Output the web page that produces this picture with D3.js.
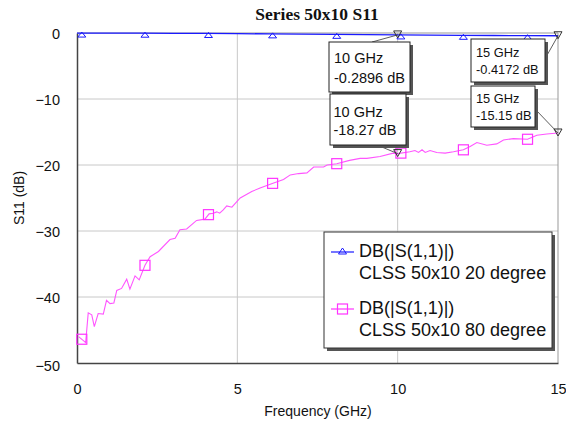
<!DOCTYPE html>
<html>
<head>
<meta charset="utf-8">
<script src="https://cdn.jsdelivr.net/npm/d3@7"></script>
<style>
  html, body { margin: 0; padding: 0; background: #fff; }
  svg { display: block; font-family: "Liberation Sans", Arial, sans-serif; }
  text { fill: #111; }
</style>
</head>
<body>
<svg id="chart" width="566" height="424"></svg>
<script>
// ---------- DATA ----------
const chartTitle = "Series 50x10 S11";
const xTicks = [0, 5, 10, 15];
const yTicks = [0, -10, -20, -30, -40, -50];

const blueFreq = [0, 1, 2, 3, 4, 5, 6, 7, 8, 9, 10, 11, 12, 13, 14, 15];
const blueVals = [-0.01, -0.02, -0.03, -0.05, -0.07, -0.1, -0.13, -0.16, -0.2, -0.24, -0.2896, -0.32, -0.35, -0.38, -0.4, -0.4172];

const pinkFreq = [0.05, 0.2, 0.27, 0.35, 0.46, 0.54, 0.66, 0.82, 0.92, 1.03, 1.15, 1.24, 1.39, 1.55, 1.65, 1.81, 1.94,
  2.12, 2.28, 2.54, 2.9, 3.06, 3.21, 3.42, 3.73, 3.99, 4.12, 4.25, 4.36, 4.45, 4.56, 4.67, 4.83, 5.09, 5.45, 5.71,
  6.09, 6.44, 6.65, 6.91, 7.17, 7.38, 7.69, 7.8, 8.1, 8.5, 8.83, 9.04, 9.45, 9.86, 10.0, 10.38, 10.54, 10.65, 10.76,
  10.86, 11.01, 11.22, 11.48, 11.74, 12.05, 12.26, 12.47, 12.78, 13.09, 13.3, 13.61, 14.05, 14.34, 14.65, 15.0];
const pinkVals = [-46.0, -46.6, -46.9, -42.4, -42.7, -44.5, -42.5, -42.6, -40.5, -41.0, -40.9, -39.0, -38.7, -37.3, -38.8, -36.8, -37.4,
  -35.2, -33.9, -33.1, -31.3, -31.1, -29.8, -29.7, -28.4, -28.2, -27.4, -27.3, -27.1, -27.3, -26.8, -26.2, -26.4, -25.0, -24.0, -23.5,
  -22.8, -22.2, -21.5, -21.3, -21.2, -20.3, -20.3, -20.0, -19.8, -19.3, -19.0, -19.0, -18.7, -18.2, -18.27, -18.0, -17.8, -18.1, -17.7,
  -18.1, -17.8, -18.1, -18.2, -18.0, -17.7, -17.2, -16.6, -17.0, -16.8, -16.2, -16.0, -16.1, -15.5, -15.3, -15.15];

const markerFreq = [0.15, 2.12, 4.1, 6.1, 8.1, 10.1, 12.05, 14.05];

const legendLabels = [["DB(|S(1,1)|)", "CLSS 50x10 20 degree"], ["DB(|S(1,1)|)", "CLSS 50x10 80 degree"]];

const readoutFreq = [10, 15, 10, 15];
const readoutVals = [-0.2896, -0.4172, -18.27, -15.15];
const readoutText = [["10 GHz", "-0.2896 dB"], ["15 GHz", "-0.4172 dB"], ["10 GHz", "-18.27 dB"], ["15 GHz", "-15.15 dB"]];

// ---------- LAYOUT ----------
const svg = d3.select("#chart");
const L = 77, R = 558, T = 33, B = 363;
const x = d3.scaleLinear().domain([0, 15]).range([L, R]);
const y = d3.scaleLinear().domain([0, -50]).range([T, B]);

const blueColor = "#1a1aff", pinkColor = "#ff33ff", pinkLine = "#ff55ff";

// gridlines
svg.append("g").selectAll("line.gx").data(xTicks.filter(d => d > 0 && d < 15)).join("line")
  .attr("x1", d => x(d)).attr("x2", d => x(d)).attr("y1", T).attr("y2", B)
  .attr("stroke", "#c8c8c8").attr("stroke-width", 1);
svg.append("g").selectAll("line.gy").data(yTicks.filter(d => d < 0 && d > -50)).join("line")
  .attr("x1", L).attr("x2", R).attr("y1", d => y(d)).attr("y2", d => y(d))
  .attr("stroke", "#c8c8c8").attr("stroke-width", 1);

// frame
svg.append("line").attr("x1", R).attr("x2", R).attr("y1", T).attr("y2", B).attr("stroke", "#999");
svg.append("line").attr("x1", L).attr("x2", R).attr("y1", T).attr("y2", T).attr("stroke", "#999");

// axes
const xAxis = d3.axisBottom(x).tickValues(xTicks).tickSize(0).tickPadding(0).tickFormat(d3.format("d"));
const gx = svg.append("g").attr("transform", `translate(0,${B})`).call(xAxis);
gx.attr("font-family", null);
gx.select(".domain").attr("stroke", "#444").attr("stroke-width", 1.5);
gx.selectAll("text").style("font-size", "14.5px").style("font-family", "Liberation Sans, Arial").attr("fill", "#111")
  .attr("dy", 0).attr("y", 31);

const yAxis = d3.axisLeft(y).tickValues(yTicks).tickSize(0).tickPadding(0).tickFormat(d3.format("d"));
const gy = svg.append("g").attr("transform", `translate(${L},0)`).call(yAxis);
gy.select(".domain").attr("stroke", "#444").attr("stroke-width", 1.5);
gy.selectAll("text").style("font-size", "14.5px").style("font-family", "Liberation Sans, Arial").attr("fill", "#111")
  .attr("x", -17).attr("dy", "0.35em");
gy.selectAll(".tick").filter(d => d === -50).select("text").attr("dy", "0.55em");

// titles
svg.append("text").attr("x", 317).attr("y", 20).attr("text-anchor", "middle")
  .style("font-family", "'Liberation Serif', 'Times New Roman', serif").style("font-weight", "bold")
  .style("font-size", "17.5px").text(chartTitle);
svg.append("text").attr("x", 318).attr("y", 416).attr("text-anchor", "middle").style("font-size", "14px")
  .text("Frequency (GHz)");
svg.append("text").attr("transform", "translate(24,198) rotate(-90)").attr("text-anchor", "middle")
  .style("font-size", "14px").text("S11 (dB)");

// lines
const lineGen = d3.line().x(d => x(d[0])).y(d => y(d[1]));
const pinkData = pinkFreq.map((f, i) => [f, pinkVals[i]]);
const blueData = blueFreq.map((f, i) => [f, blueVals[i]]);
svg.append("path").datum(pinkData).attr("d", lineGen).attr("fill", "none").attr("stroke", pinkLine).attr("stroke-width", 1.1);
svg.append("path").datum(blueData).attr("d", lineGen).attr("fill", "none").attr("stroke", blueColor).attr("stroke-width", 1.3);

// series markers
const interp = (fs, vs, f) => {
  for (let i = 1; i < fs.length; i++) {
    if (f <= fs[i]) { const t = (f - fs[i - 1]) / (fs[i] - fs[i - 1]); return vs[i - 1] + t * (vs[i] - vs[i - 1]); }
  }
  return vs[vs.length - 1];
};
svg.append("g").selectAll("rect").data(markerFreq).join("rect")
  .attr("x", d => x(d) - 5).attr("y", d => y(interp(pinkFreq, pinkVals, d)) - 5)
  .attr("width", 10).attr("height", 10).attr("fill", "none").attr("stroke", pinkColor).attr("stroke-width", 1.2);
svg.append("g").selectAll("path").data(markerFreq).join("path")
  .attr("d", d => { const cx = x(d), cy = y(interp(blueFreq, blueVals, d)) + 1.5; return `M${cx - 4},${cy + 2.5}L${cx + 4},${cy + 2.5}L${cx},${cy - 2.5}Z`; })
  .attr("fill", "none").attr("stroke", blueColor).attr("stroke-width", 1);

// readout boxes (positions relative to marker anchor)
const boxes = [
  { x: 329, y: 42, w: 81, h: 50, fs: 14.5, tx: 334, b1: 63, b2: 83, lx: 372, ly: 42 },
  { x: 471, y: 39, w: 74, h: 43, fs: 12.8, tx: 476, b1: 56.5, b2: 74, lx: 546, ly: 57 },
  { x: 330, y: 94, w: 76, h: 51, fs: 14.5, tx: 333.5, b1: 116.5, b2: 135, lx: 377, ly: 145 },
  { x: 471, y: 86, w: 64, h: 41, fs: 12.8, tx: 476, b1: 103, b2: 120, lx: 536, ly: 110 }
];
const rg = svg.append("g");
boxes.forEach((bx, i) => {
  const px = x(readoutFreq[i]), py = y(readoutVals[i]);
  rg.append("line").attr("x1", bx.lx).attr("y1", bx.ly).attr("x2", px).attr("y2", py)
    .attr("stroke", "#333").attr("stroke-width", 0.8);
  rg.append("rect").attr("x", bx.x + 3).attr("y", bx.y + 3).attr("width", bx.w).attr("height", bx.h).attr("fill", "#555");
  rg.append("rect").attr("x", bx.x).attr("y", bx.y).attr("width", bx.w).attr("height", bx.h)
    .attr("fill", "#fff").attr("stroke", "#222").attr("stroke-width", 1);
  rg.append("text").attr("x", bx.tx).attr("y", bx.b1).style("font-size", bx.fs + "px").text(readoutText[i][0]);
  rg.append("text").attr("x", bx.tx).attr("y", bx.b2).style("font-size", bx.fs + "px").text(readoutText[i][1]);
  rg.append("path").attr("d", `M${px - 4},${py - 4}L${px + 4},${py - 4}L${px},${py + 3}Z`)
    .attr("fill", "none").attr("stroke", "#333").attr("stroke-width", 1);
});

// legend
const lg = svg.append("g");
lg.append("rect").attr("x", 327).attr("y", 235).attr("width", 228).attr("height", 116).attr("fill", "#555");
lg.append("rect").attr("x", 324).attr("y", 232).attr("width", 228).attr("height", 116)
  .attr("fill", "#fff").attr("stroke", "#333").attr("stroke-width", 1);
const legColors = [blueColor, pinkColor];
const legY = [252, 309];
legendLabels.forEach((lab, i) => {
  const cy = legY[i];
  lg.append("line").attr("x1", 331).attr("x2", 354).attr("y1", cy).attr("y2", cy).attr("stroke", legColors[i]).attr("stroke-width", 1.2);
  if (i === 0) {
    lg.append("path").attr("d", `M${342.5 - 4},${cy + 2}L${342.5 + 4},${cy + 2}L${342.5},${cy - 4}Z`)
      .attr("fill", "none").attr("stroke", blueColor).attr("stroke-width", 1);
  } else {
    lg.append("rect").attr("x", 337.5).attr("y", cy - 5).attr("width", 10).attr("height", 10)
      .attr("fill", "none").attr("stroke", pinkColor).attr("stroke-width", 1.2);
  }
  lg.append("text").attr("x", 359).attr("y", cy + 5).style("font-size", "18px").text(lab[0]);
  lg.append("text").attr("x", 359).attr("y", cy + 26.5).style("font-size", "18px").text(lab[1]);
});
</script>
</body>
</html>
